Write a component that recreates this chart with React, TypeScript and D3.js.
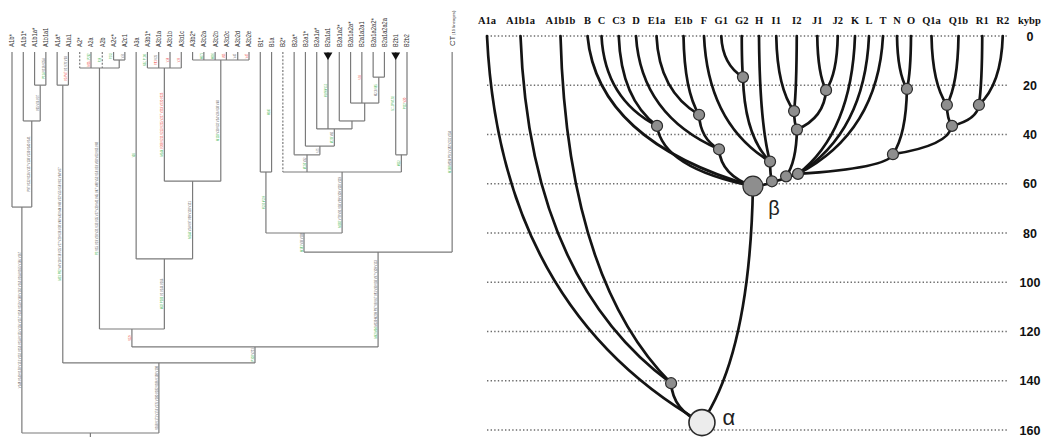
import React from 'react'
import * as d3 from 'd3'

const W = 1042
const H = 437

// ---------------- left panel: Y-chromosome tree (A / B / CT) ----------------
const leftLeaves = [
  'A1b*', 'A1b1*', 'A1b1a*', 'A1b1a1', 'A1a*', 'A1a1', 'A2*', 'A2a', 'A2b', 'A2c*', 'A2c1',
  'A3a', 'A3b1*', 'A3b1a', 'A3b1b', 'A3b1c', 'A3b2*', 'A3b2a', 'A3b2b', 'A3b2c', 'A3b2d', 'A3b2e',
  'B1*', 'B1a', 'B2*', 'B2a*', 'B2a1*', 'B2a1a*', 'B2a1a1', 'B2a1a2*', 'B2a1a2a*', 'B2a1a2a1',
  'B2a1a2a2*', 'B2a1a2a2a', 'B2b1', 'B2b2', 'CT',
]

// h = branching depth (root = 100)
const leftNodes = [
  { id: 'root', h: 100, kids: ['A1b', 'N158'] },
  { id: 'A1b', h: 40.7, kids: ['A1b*', 'A1b1'] },
  { id: 'A1b1', h: 18.1, kids: ['A1b1*', 'A1b1a'] },
  { id: 'A1b1a', h: 8.7, kids: ['A1b1a*', 'A1b1a1'] },
  { id: 'N158', h: 81.6, kids: ['A1a', 'N255'] },
  { id: 'A1a', h: 8.7, kids: ['A1a*', 'A1a1'] },
  { id: 'N255', h: 77.4, kids: ['A2A3', 'BT'] },
  { id: 'A2A3', h: 72.7, kids: ['A2', 'A3'] },
  { id: 'A2', h: 4.2, kids: ['A2*', 'A2a', 'A2b', 'A2c'] },
  { id: 'A2c', h: 2.1, kids: ['A2c*', 'A2c1'] },
  { id: 'A3', h: 54.3, kids: ['A3a', 'A3b'] },
  { id: 'A3b', h: 33.9, kids: ['A3b1', 'A3b2'] },
  { id: 'A3b1', h: 4.2, kids: ['A3b1*', 'A3b1a', 'A3b1b', 'A3b1c'] },
  { id: 'A3b2', h: 2.1, kids: ['A3b2*', 'A3b2a', 'A3b2b', 'A3b2c', 'A3b2d', 'A3b2e'] },
  { id: 'BT', h: 52.5, kids: ['B', 'CT'] },
  { id: 'B', h: 47.5, kids: ['B1', 'B2'] },
  { id: 'B1', h: 31.5, kids: ['B1*', 'B1a'] },
  { id: 'B2', h: 31.5, kids: ['B2*', 'B2a', 'B2b'] },
  { id: 'B2a', h: 27, kids: ['B2a*', 'B2a1'] },
  { id: 'B2a1', h: 24.7, kids: ['B2a1*', 'B2a1a'] },
  { id: 'B2a1a', h: 20.2, kids: ['B2a1a*', 'B2a1a1', 'B2a1a2'] },
  { id: 'B2a1a2', h: 18.1, kids: ['B2a1a2*', 'B2a1a2a'] },
  { id: 'B2a1a2a', h: 13.4, kids: ['B2a1a2a*', 'B2a1a2a1', 'B2a1a2a2'] },
  { id: 'B2a1a2a2', h: 6.6, kids: ['B2a1a2a2*', 'B2a1a2a2a'] },
  { id: 'B2b', h: 27, kids: ['B2b1', 'B2b2'] },
]

const dashedLeaves = ['A2*', 'A2b', 'B2*']
const collapsedLeaves = ['B2a1a1', 'B2b1']

// markers written along branches: [branch, [[text, colour]]]
const leftNotes: [string, [string, string][]][] = [
  ['A1b', [['V148 V149 V150 V151 V152 V153 V154 V155 V156 V157 V158 V159 V160 V162 V163 V164 V165 V166 V167', 'k']]],
  ['A1b1', [['P97 V132 V136 V137 V138 V139 V140 V141', 'k']]],
  ['A1b1a', [['V95 V96 V97', 'k']]],
  ['A1b1a1', [['P114 ', 'g'], ['V116 V254', 'k']]],
  ['A1a1', [['V5 P47 ', 'r'], ['V2 V70 V93', 'k']]],
  ['A1a', [['M31 P82 ', 'g'], ['V4 V10 V18 V25 V27 V29 V36 V38 V40 V43 V44 V49 V52 V55 V58 V61 V64 V67', 'k']]],
  ['A2a', [['M114 ', 'r'], ['P262', 'g']]],
  ['A2b', [['P28', 'g']]],
  ['A2c*', [['P262', 'g']]],
  ['A2c1', [['V50', 'k']]],
  ['A2', [['P3 ', 'g'], ['V15 V19 V20 V31 V33 V35 V37 V39 V41 V45 V47 V48 V53 V56 V59 V60 V63 V65 V68', 'k']]],
  ['A3a', [['M28', 'g']]],
  ['A3b1*', [['M51 P100', 'g']]],
  ['A3b1a', [['Y81 ', 'r'], ['V26', 'k']]],
  ['A3b1b', [['V38', 'r']]],
  ['A3b1c', [['V39', 'r']]],
  ['A3b1', [['M144 ', 'g'], ['V208 V211 V213 V215 V217 V219 V220 V223', 'r']]],
  ['A3b2a', [['M171', 'g']]],
  ['A3b2b', [['M116', 'g']]],
  ['A3b2c', [['M13', 'r']]],
  ['A3b2d', [['V45', 'k']]],
  ['A3b2e', [['V47', 'r']]],
  ['A3b2', [['M118 ', 'g'], ['V30 V32 V34 V36 V38 V40', 'k']]],
  ['A3b', [['M144 ', 'g'], ['V24 V97 V99 V110 V121', 'k']]],
  ['A3', [['M32 P289 ', 'g'], ['V1 V144 V166', 'k']]],
  ['A2A3', [['V229', 'r']]],
  ['N255', [['P108 ', 'g'], ['V221', 'k']]],
  ['N158', [['V168 V171 V174 V176 V180 V182 V186 V190 V198', 'k']]],
  ['BT', [['M42 M94 ', 'g'], ['M139 M299 P97 V8 V67 V81 V90 V93 V97 V109 V113', 'k']]],
  ['CT', [['M168 ', 'g'], ['M294 P9.1 V182 V231 V234', 'k']]],
  ['B', [['M181 ', 'g'], ['V99 V108', 'k']]],
  ['B1', [['M236 M239', 'g']]],
  ['B1a', [['M146', 'g']]],
  ['B2', [['M182 ', 'g'], ['V78 V91 V93 V99 V109 V110 V119', 'k']]],
  ['B2a', [['M150 ', 'g'], ['V32', 'k']]],
  ['B2a1', [['V75', 'k']]],
  ['B2a1a', [['M169 ', 'g'], ['V82', 'k']]],
  ['B2b', [['M112', 'g']]],
  ['B2b1', [['S112P ', 'g'], ['M192', 'g']]],
  ['B2b2', [['P112 ', 'g'], ['V30', 'r']]],
  ['B2a1a1', [['M109/M152', 'g']]],
  ['B2a1a2a1', [['V64', 'r']]],
  ['B2a1a2a2', [['M218 ', 'k'], ['V85', 'g']]],
]

const noteColour: Record<string, string> = { k: '#555', g: '#37b34a', r: '#ee4035' }

// ---------------- right panel: dated tree (kybp) ----------------
const rightLeaves = [
  'A1a', 'A1b1a', 'A1b1b', 'B', 'C', 'C3', 'D', 'E1a', 'E1b', 'F', 'G1', 'G2', 'H', 'I1', 'I2',
  'J1', 'J2', 'K', 'L', 'T', 'N', 'O', 'Q1a', 'Q1b', 'R1', 'R2',
]

// t = age in kybp, slot = horizontal place measured in leaf columns
const rightNodes = [
  { id: 'α', t: 157, slot: 8.9, kids: ['A1a', 'A1b1', 'β'] },
  { id: 'A1b1', t: 141, slot: 7.54, kids: ['A1b1a', 'A1b1b'] },
  { id: 'β', t: 61, slot: 11.65, kids: ['B', 'Cn', 'DE', 'n1'] },
  { id: 'Cn', t: 36.5, slot: 7.02, kids: ['C', 'C3'] },
  { id: 'DE', t: 46, slot: 9.87, kids: ['D', 'En'] },
  { id: 'En', t: 32, slot: 8.76, kids: ['E1a', 'E1b'] },
  { id: 'n1', t: 59, slot: 12.75, kids: ['Fn', 'n2'] },
  { id: 'Fn', t: 51, slot: 12.64, kids: ['F', 'Gn', 'H'] },
  { id: 'Gn', t: 16.7, slot: 11.07, kids: ['G1', 'G2'] },
  { id: 'n2', t: 57, slot: 13.48, kids: ['IJ', 'n3'] },
  { id: 'IJ', t: 38, slot: 14.01, kids: ['In', 'Jn'] },
  { id: 'In', t: 30.5, slot: 13.87, kids: ['I1', 'I2'] },
  { id: 'Jn', t: 22, slot: 15.43, kids: ['J1', 'J2'] },
  { id: 'n3', t: 56, slot: 14.06, kids: ['K', 'L', 'T', 'Kn'] },
  { id: 'Kn', t: 48, slot: 19.71, kids: ['NO', 'P'] },
  { id: 'NO', t: 21.5, slot: 20.71, kids: ['N', 'O'] },
  { id: 'P', t: 36.5, slot: 22.76, kids: ['Qn', 'Rn'] },
  { id: 'Qn', t: 28, slot: 22.57, kids: ['Q1a', 'Q1b'] },
  { id: 'Rn', t: 28, slot: 23.86, kids: ['R1', 'R2'] },
]

const kyTicks = [0, 20, 40, 60, 80, 100, 120, 140, 160]

type Pt = { x: number; y: number }

function layoutLeft() {
  const x = d3.scaleLinear().domain([0, 35]).range([12, 407])
  const y = d3.scaleLinear().domain([0, 100]).range([52, 433])
  const pos = new Map<string, Pt>()
  const parent = new Map<string, string>()
  leftLeaves.forEach((n, i) => pos.set(n, { x: x(i < 36 ? i : i + 3), y: y(0) }))
  const byId = new Map(leftNodes.map(n => [n.id, n]))
  leftNodes.forEach(n => n.kids.forEach(k => parent.set(k, n.id)))
  const place = (id: string): Pt => {
    if (pos.has(id)) return pos.get(id)!
    const n = byId.get(id)!
    const ks = n.kids.map(place)
    const p = { x: (ks[0].x + ks[ks.length - 1].x) / 2, y: y(n.h) }
    pos.set(id, p)
    return p
  }
  place('root')
  return { pos, parent }
}

function layoutRight() {
  const CHAR_W = 6.5
  const GAP = 7.5
  const leafX: number[] = []
  rightLeaves.forEach((name, i) => {
    leafX.push(i === 0 ? 487 : leafX[i - 1] + ((rightLeaves[i - 1].length + name.length) / 2) * CHAR_W + GAP)
  })
  const x = d3.scaleLinear().domain(d3.range(rightLeaves.length)).range(leafX)
  const y = d3.scaleLinear().domain([0, 160]).range([36, 430])
  const pos = new Map<string, Pt>()
  rightLeaves.forEach((n, i) => pos.set(n, { x: leafX[i], y: y(0) }))
  rightNodes.forEach(n => pos.set(n.id, { x: x(n.slot), y: y(n.t) }))
  return { pos, y, leafX }
}

export default function App() {
  const L = layoutLeft()
  const R = layoutRight()
  const lineCol = '#7a7a7a'
  const tri = d3.symbol().type(d3.symbolTriangle).size(34)() as string

  const edgePath = (a: Pt, b: Pt) => {
    const p = d3.path()
    p.moveTo(a.x, a.y)
    p.quadraticCurveTo(a.x + 0.06 * (b.x - a.x), a.y + 0.7 * (b.y - a.y), b.x, b.y)
    return p.toString()
  }

  return (
    <svg width={W} height={H} style={{ position: 'absolute', left: 0, top: 0, background: '#fff' }}>
      {/* ---------- left tree ---------- */}
      <g fill="none" stroke={lineCol} strokeWidth={1.2}>
        {leftNodes.map(n => {
          const p = L.pos.get(n.id)!
          const ks = n.kids.map(k => L.pos.get(k)!)
          return (
            <g key={n.id}>
              <line x1={ks[0].x} x2={ks[ks.length - 1].x} y1={p.y} y2={p.y} />
              {n.kids.map((k, i) => (
                <line key={k} x1={ks[i].x} x2={ks[i].x} y1={ks[i].y} y2={p.y}
                  strokeDasharray={dashedLeaves.includes(k) ? '2 1.6' : undefined} />
              ))}
            </g>
          )
        })}
        <line x1={L.pos.get('root')!.x} x2={L.pos.get('root')!.x} y1={L.pos.get('root')!.y} y2={H} />
      </g>
      {collapsedLeaves.map(n => {
        const p = L.pos.get(n)!
        return <path key={n} d={tri} transform={`translate(${p.x},${p.y + 3}) rotate(180)`} fill="#111" />
      })}
      <g fontFamily="'Liberation Sans Narrow', 'Liberation Sans', Arial, sans-serif" fill="#333">
        {leftLeaves.filter(n => n !== 'CT').map(n => {
          const p = L.pos.get(n)!
          return (
            <text key={n} transform={`translate(${p.x + 2.4},47) rotate(-90)`} fontSize={7.6}
              textLength={n.length * 3.2} lengthAdjust="spacingAndGlyphs">{n}</text>
          )
        })}
        <text transform={`translate(${L.pos.get('CT')!.x + 2.4},46) rotate(-90)`} fontSize={7.6}>
          CT<tspan fontSize={4.2} dx={1}>(19 lineages)</tspan>
        </text>
      </g>
      <g fontFamily="'Liberation Sans Narrow', 'Liberation Sans', Arial, sans-serif" fontSize={4.2}>
        {leftNotes.map(([b, segs]) => {
          const p = L.pos.get(b)!
          const py = L.pos.get(L.parent.get(b)!)!.y
          const len = segs.reduce((s, d) => s + d[0].length, 0)
          return (
            <text key={b} transform={`translate(${p.x - 1.3},${(p.y + py) / 2}) rotate(-90)`}
              textAnchor="middle" textLength={len * 1.45} lengthAdjust="spacingAndGlyphs">
              {segs.map((s, i) => <tspan key={i} fill={noteColour[s[1]]}>{s[0]}</tspan>)}
            </text>
          )
        })}
      </g>

      {/* ---------- right tree ---------- */}
      <g stroke="#6d6d6d" strokeWidth={1.6} strokeDasharray="1.4 2.2">
        {kyTicks.map(t => (
          <line key={t} x1={487} x2={1007} y1={R.y(t)} y2={R.y(t)} />
        ))}
      </g>
      <g fill="none" stroke="#141414" strokeWidth={2.7} strokeLinecap="round">
        {rightNodes.flatMap(n =>
          n.kids.map(k => <path key={n.id + k} d={edgePath(R.pos.get(k)!, R.pos.get(n.id)!)} />)
        )}
      </g>
      <g stroke="#2a2a2a">
        {rightNodes.map(n => {
          const p = R.pos.get(n.id)!
          const r = n.id === 'α' ? 13 : n.id === 'β' ? 10 : 5.5
          return (
            <circle key={n.id} cx={p.x} cy={p.y} r={r} fill={n.id === 'α' ? '#ececec' : '#8e8e8e'}
              strokeWidth={n.id === 'α' ? 1.6 : 1.2} />
          )
        })}
      </g>
      <g fontFamily="'Liberation Sans', Arial, sans-serif" fill="#222">
        <text x={R.pos.get('β')!.x + 21} y={R.pos.get('β')!.y + 29} fontSize={20} textAnchor="middle">β</text>
        <text x={R.pos.get('α')!.x + 27} y={R.pos.get('α')!.y + 2} fontSize={22} textAnchor="middle">α</text>
      </g>
      <g fontFamily="'Liberation Serif', 'DejaVu Serif', serif" fontWeight="bold" fontSize={10.5} fill="#111">
        {rightLeaves.map((n, i) => (
          <text key={n} x={R.leafX[i]} y={24} textAnchor="middle">{n}</text>
        ))}
        <text x={1018} y={24}>kybp</text>
      </g>
      <g fontFamily="'Liberation Sans', Arial, sans-serif" fontWeight="bold" fontSize={12.5} fill="#111">
        {kyTicks.map(t => (
          <text key={t} x={1030} y={R.y(t)} dy="0.36em" textAnchor="middle">{t}</text>
        ))}
      </g>
    </svg>
  )
}
